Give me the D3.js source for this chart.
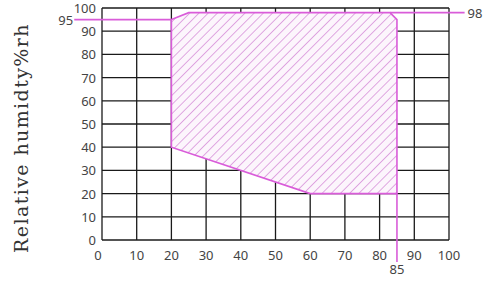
<!DOCTYPE html>
<html lang="en">
<style>
body { margin: 0; background: #fff; }
.grid line { stroke: #1a1a1a; stroke-width: 1.3px; }
.tick-label { font-family: "Noto Sans", sans-serif; font-size: 13px; fill: #444; }
</style>
<script type="text/javascript" src="https://d3js.org/d3.v7.min.js"></script>
<body>
<script type="text/javascript">

var width = 494,
    height = 291;

// Temperature (x) and humidity (y) ticks
var xTicks = [0, 10, 20, 30, 40, 50, 60, 70, 80, 90, 100];
var yTicks = [0, 10, 20, 30, 40, 50, 60, 70, 80, 90, 100];

// Working zone outline: [temperature, humidity]
var zoneTemp = [20, 20, 25, 83, 85, 85, 60, 20];
var zoneHum  = [40, 95, 98, 98, 95, 20, 20, 40];

// Marker lines with labels
var markerLabels = ["95", "98", "85"];

var margin = {left: 102, right: 45, top: 8, bottom: 51};

var svg = d3.select("body").append("svg")
    .attr("width", width)
    .attr("height", height);

var x = d3.scaleLinear().domain([0, 100]).range([margin.left, width - margin.right]);
var y = d3.scaleLinear().domain([0, 100]).range([height - margin.bottom, margin.top]);

// Hatch pattern
var defs = svg.append("defs");
var pat = defs.append("pattern")
    .attr("id", "hatch")
    .attr("patternUnits", "userSpaceOnUse")
    .attr("width", 6.5)
    .attr("height", 6.5)
    .attr("patternTransform", "rotate(45)");
pat.append("rect").attr("width", 6.5).attr("height", 6.5).attr("fill", "#fcf5fc");
pat.append("line")
    .attr("x1", 0).attr("y1", 0).attr("x2", 0).attr("y2", 6.5)
    .attr("stroke", "#c868cc").attr("stroke-width", 1.1);

// Grid
var grid = svg.append("g").attr("class", "grid");
grid.selectAll(".v").data(xTicks).enter().append("line")
    .attr("x1", function(d) { return x(d); })
    .attr("x2", function(d) { return x(d); })
    .attr("y1", y(0)).attr("y2", y(100));
grid.selectAll(".h").data(yTicks).enter().append("line")
    .attr("y1", function(d) { return y(d); })
    .attr("y2", function(d) { return y(d); })
    .attr("x1", x(0)).attr("x2", x(100));

// Zone
var pts = zoneTemp.map(function(t, i) { return [x(t), y(zoneHum[i])]; });
svg.append("path")
    .attr("d", d3.line()(pts) + "Z")
    .attr("fill", "url(#hatch)")
    .attr("stroke", "#d95cd9")
    .attr("stroke-width", 1.6);

// Marker lines
var pink = "#d95cd9";
svg.append("line") // 95 line
    .attr("x1", x(-8)).attr("x2", x(20))
    .attr("y1", y(95)).attr("y2", y(95))
    .attr("stroke", pink).attr("stroke-width", 1.6);
svg.append("line") // 98 line
    .attr("x1", x(83)).attr("x2", x(104.5))
    .attr("y1", y(98)).attr("y2", y(98))
    .attr("stroke", pink).attr("stroke-width", 1.6);
svg.append("line") // 85 line
    .attr("x1", x(85)).attr("x2", x(85))
    .attr("y1", y(20)).attr("y2", y(-9.5))
    .attr("stroke", pink).attr("stroke-width", 1.6);

svg.append("text").attr("class", "tick-label")
    .attr("x", x(-8) - 1).attr("y", y(95) + 5)
    .attr("text-anchor", "end").text(markerLabels[0]);
svg.append("text").attr("class", "tick-label")
    .attr("x", x(104.5) + 3).attr("y", y(98) + 5)
    .text(markerLabels[1]);
svg.append("text").attr("class", "tick-label")
    .attr("x", x(85)).attr("y", y(-14.5))
    .attr("text-anchor", "middle").text(markerLabels[2]);

// Tick labels
svg.selectAll(".xl").data(xTicks).enter().append("text")
    .attr("class", "tick-label")
    .attr("x", function(d) { return x(d) - (d === 0 ? 4 : 0); })
    .attr("y", y(0) + 20)
    .attr("text-anchor", "middle")
    .text(function(d) { return d; });
svg.selectAll(".yl").data(yTicks).enter().append("text")
    .attr("class", "tick-label")
    .attr("x", x(0) - 6)
    .attr("y", function(d) { return y(d) + 5; })
    .attr("text-anchor", "end")
    .text(function(d) { return d; });

// Axis title
svg.append("text")
    .attr("transform", "translate(28,138) rotate(-90)")
    .attr("text-anchor", "middle")
    .style("font-family", "'DejaVu Serif', serif")
    .style("font-size", "19px")
    .style("letter-spacing", "1.4px")
    .style("fill", "#333")
    .text("Relative humidty%rh");

</script>
</body>
</html>
